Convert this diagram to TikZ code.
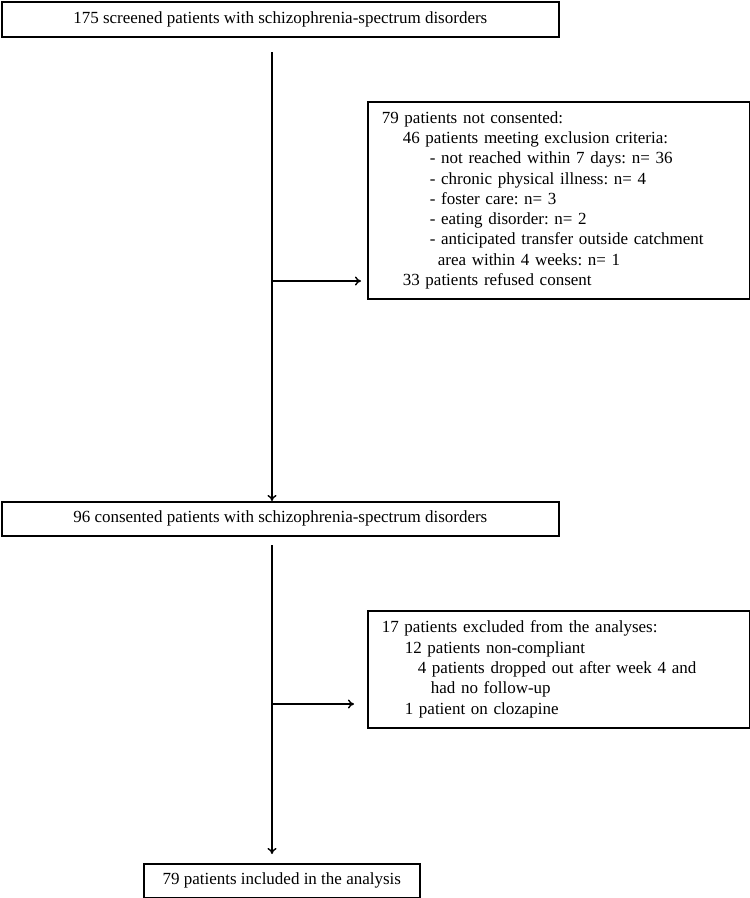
\documentclass[tikz,border=0pt]{standalone}
\usepackage{fontspec}
\setmainfont{Liberation Serif}
\usetikzlibrary{arrows.meta}
\frenchspacing
\begin{document}
\begin{tikzpicture}[x=1pt,y=-1pt,
  box/.style={draw, line width=1.6pt, anchor=north west, inner sep=0pt,
    font=\fontsize{17}{20.3}\selectfont},
  sidebox/.style={box, align=left, inner xsep=14pt},
  conn/.style={line width=1.4pt, -{To[length=6pt,width=9pt]}}]
\useasboundingbox (0,0) rectangle (750,898);

\node[box, minimum width=557pt, minimum height=35pt] (screen) at (1,1)
  {175 screened patients with schizophrenia-spectrum disorders};

\node[sidebox, text width=354pt, minimum height=197pt] (notcons) at (367,101)
  {79 patients not consented:\\
   \hspace*{21pt}46 patients meeting exclusion criteria:\\
   \hspace*{48pt}- not reached within 7 days: n= 36\\
   \hspace*{48pt}- chronic physical illness: n= 4\\
   \hspace*{48pt}- foster care: n= 3\\
   \hspace*{48pt}- eating disorder: n= 2\\
   \hspace*{48pt}- anticipated transfer outside catchment\\
   \hspace*{56pt}area within 4 weeks: n= 1\\
   \hspace*{21pt}33 patients refused consent};

\node[box, minimum width=557pt, minimum height=34pt] (consent) at (1,501)
  {96 consented patients with schizophrenia-spectrum disorders};

\node[sidebox, text width=354pt, minimum height=117pt] (excl) at (367,610)
  {17 patients excluded from the analyses:\\
   \hspace*{23pt}12 patients non-compliant\\
   \hspace*{36pt}4 patients dropped out after week 4 and\\
   \hspace*{49pt}had no follow-up\\
   \hspace*{23pt}1 patient on clozapine};

\node[box, minimum width=276pt, minimum height=34pt] (incl) at (143,863)
  {79 patients included in the analysis};

\coordinate (s1) at (272,52);
\coordinate (b1) at (272,281);
\coordinate (s2) at (272,545);
\coordinate (b2) at (272,704);
\coordinate (e2) at (272,854);

\draw[conn] (s1) -- (s1 |- consent.north);
\draw[conn] (b1) -- ([xshift=-6pt]notcons.west |- b1);
\draw[conn] (s2) -- (e2);
\draw[conn] (b2) -- ([xshift=-13pt]excl.west |- b2);
\end{tikzpicture}
\end{document}
